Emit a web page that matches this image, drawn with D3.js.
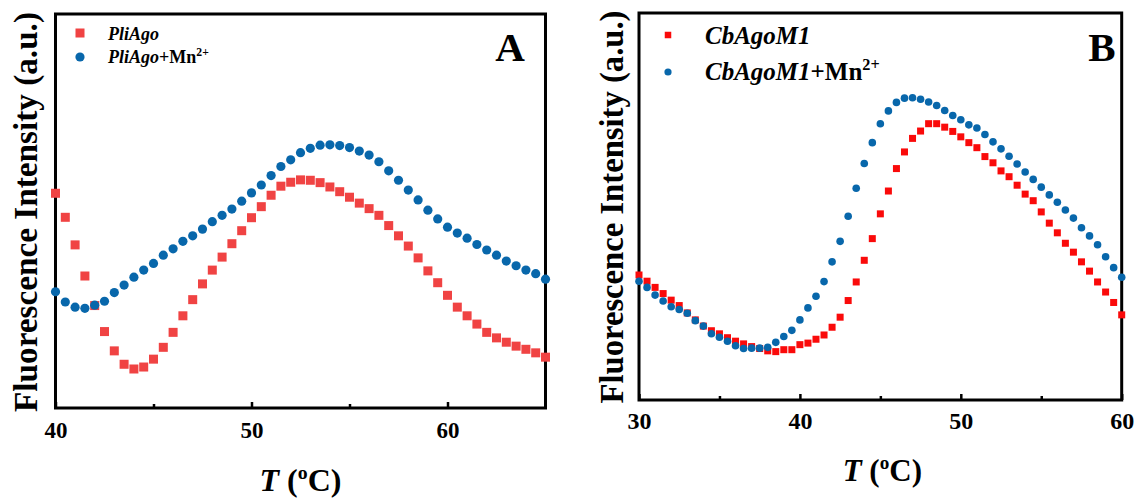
<!DOCTYPE html>
<html>
<head>
<meta charset="utf-8">
<script src="https://cdnjs.cloudflare.com/ajax/libs/d3/7.8.5/d3.min.js"></script>
<style>
    body { margin: 0; background: #fff; }
    svg { display: block; font-family: 'Liberation Serif', 'Times New Roman', serif; font-weight: bold; }
</style>
</head>
<body>
<div id="melting"></div>
<script>
'use strict';

// panel A - PliAgo, 40..65 C
var tempA = [40, 40.5, 41, 41.5, 42, 42.5, 43, 43.5, 44, 44.5, 45, 45.5, 46, 46.5, 47, 47.5, 48, 48.5, 49, 49.5,
    50, 50.5, 51, 51.5, 52, 52.5, 53, 53.5, 54, 54.5, 55, 55.5, 56, 56.5, 57, 57.5, 58, 58.5, 59, 59.5,
    60, 60.5, 61, 61.5, 62, 62.5, 63, 63.5, 64, 64.5, 65];
var pliAgo = [54.5, 48.4, 41.4, 33.5, 26.0, 19.4, 14.5, 11.1, 9.9, 10.4,
    12.4, 15.4, 19.2, 23.4, 27.5, 31.5, 35.0, 38.3, 41.7, 45.0,
    48.3, 51.1, 54.0, 56.3, 57.3, 57.9, 57.8, 57.2, 56.1, 54.9,
    53.5, 52.0, 50.6, 48.9, 46.3, 43.7, 41.1, 38.1, 34.8, 31.8,
    28.6, 25.6, 23.4, 21.3, 19.2, 17.8, 16.7, 15.7, 14.9, 14.0, 12.9];
var pliAgoMn = [29.5, 26.9, 25.6, 25.3, 26.1, 27.1, 29.3, 31.2, 33.2, 35.0,
    36.7, 38.8, 40.4, 42.3, 43.7, 45.4, 47.3, 48.9, 50.5, 52.5,
    54.6, 56.6, 59.0, 61.3, 63.0, 64.8, 65.9, 66.7, 66.8, 66.6,
    66.1, 65.2, 64.2, 62.5, 60.2, 57.8, 55.3, 52.8, 50.2, 48.0,
    45.9, 44.4, 43.1, 41.5, 40.1, 38.8, 37.3, 36.1, 35.0, 34.1, 32.7];
var ticksA = [40, 50, 60];
var minorA = [45, 55];

// panel B - CbAgoM1, 30..60 C
var tempB = [30, 30.5, 31, 31.5, 32, 32.5, 33, 33.5, 34, 34.5, 35, 35.5, 36, 36.5, 37, 37.5, 38, 38.5, 39, 39.5,
    40, 40.5, 41, 41.5, 42, 42.5, 43, 43.5, 44, 44.5, 45, 45.5, 46, 46.5, 47, 47.5, 48, 48.5, 49, 49.5,
    50, 50.5, 51, 51.5, 52, 52.5, 53, 53.5, 54, 54.5, 55, 55.5, 56, 56.5, 57, 57.5, 58, 58.5, 59, 59.5, 60];
var cbAgo = [32.3, 30.7, 29.1, 27.5, 25.8, 24.4, 22.5, 20.7, 19.1, 17.9,
    17.1, 16.1, 15.2, 14.5, 13.8, 13.3, 12.7, 12.5, 13.0, 13.0,
    14.3, 14.7, 15.7, 16.8, 18.8, 21.4, 25.7, 30.5, 36.1, 41.7,
    48.1, 54.0, 59.8, 64.1, 67.6, 69.5, 71.4, 71.4, 70.5, 69.4,
    68.0, 66.5, 65.2, 62.9, 61.3, 59.2, 57.7, 55.5, 53.2, 51.5,
    48.6, 45.7, 43.2, 40.5, 38.2, 35.7, 33.3, 30.5, 27.9, 25.2, 22.0];
var cbAgoMn = [30.7, 29.1, 27.1, 25.6, 24.1, 23.4, 22.4, 20.5, 19.1, 17.1,
    16.2, 15.2, 14.0, 13.3, 13.4, 13.4, 13.6, 14.9, 16.4, 18.0,
    20.7, 23.8, 26.8, 30.6, 35.7, 41.0, 47.5, 54.7, 61.1, 66.5,
    71.4, 74.7, 76.9, 78.0, 78.1, 77.7, 77.0, 76.1, 74.8, 73.5,
    72.4, 71.1, 70.3, 68.6, 66.7, 64.9, 63.0, 61.0, 58.9, 57.0,
    55.0, 53.0, 51.1, 49.1, 47.0, 44.5, 42.4, 40.1, 37.0, 34.2, 31.7];
var ticksB = [30, 40, 50, 60];
var minorB = [35, 45, 55];

var moduleMelting = (function() {

    var width = 1139,
        height = 502;

    var svg = d3.select('#melting').append('svg')
        .attr('width', width)
        .attr('height', height);

    svg.append('rect').attr('width', width).attr('height', height).attr('fill', '#fff');

    function drawPanel(p) {
        var x = d3.scaleLinear().domain(p.xDomain).range([p.left, p.right]);
        var y = d3.scaleLinear().domain([0, 100]).range([p.bottom, p.top]);
        var g = svg.append('g');

        // frame
        g.append('rect')
            .attr('x', p.left)
            .attr('y', p.top)
            .attr('width', p.right - p.left)
            .attr('height', p.bottom - p.top)
            .attr('fill', 'none')
            .attr('stroke', '#000')
            .attr('stroke-width', 3);

        // minor ticks, pointing in
        var minor = g.append('g')
            .attr('transform', 'translate(0,' + p.bottom + ')')
            .call(d3.axisBottom(x).tickValues(p.minor).tickSize(-4).tickFormat(''));
        minor.select('.domain').remove();
        minor.selectAll('line').attr('stroke-width', 2.5);

        // major ticks + labels
        var ax = g.append('g')
            .attr('transform', 'translate(0,' + p.bottom + ')')
            .call(d3.axisBottom(x).tickValues(p.ticks).tickSize(-6).tickPadding(p.labelPad));
        ax.select('.domain').remove();
        ax.attr('font-family', null).attr('font-size', p.tickFont);
        ax.selectAll('line').attr('stroke-width', 2.5);
        ax.selectAll('text').attr('fill', '#000');

        // markers: red squares under blue dots
        var pts1 = p.temps.map(function(t, i) { return {t: t, v: p.s1[i]}; });
        var pts2 = p.temps.map(function(t, i) { return {t: t, v: p.s2[i]}; });

        g.append('g').selectAll('rect')
            .data(pts1)
            .enter()
            .append('rect')
            .attr('x', function(d) { return x(d.t) - p.sq / 2; })
            .attr('y', function(d) { return y(d.v) - p.sq / 2; })
            .attr('width', p.sq)
            .attr('height', p.sq)
            .attr('fill', p.red);

        g.append('g').selectAll('circle')
            .data(pts2)
            .enter()
            .append('circle')
            .attr('cx', function(d) { return x(d.t); })
            .attr('cy', function(d) { return y(d.v); })
            .attr('r', p.r)
            .attr('fill', p.blue);

        // legend
        var lg = g.append('g').attr('font-size', p.legFont);
        lg.append('rect')
            .attr('x', p.legX - p.legSq / 2).attr('y', p.legY1 - p.legSq / 2)
            .attr('width', p.legSq).attr('height', p.legSq)
            .attr('fill', p.red);
        lg.append('circle')
            .attr('cx', p.legX).attr('cy', p.legY2).attr('r', p.legR)
            .attr('fill', p.blue);
        lg.append('text')
            .attr('x', p.legTx).attr('y', p.legB1)
            .attr('font-style', 'italic')
            .text(p.name);
        var t2 = lg.append('text').attr('x', p.legTx).attr('y', p.legB2);
        t2.append('tspan').attr('font-style', 'italic').text(p.name);
        t2.append('tspan').text('+Mn');
        t2.append('tspan').attr('dy', -p.legFont * 0.4).attr('font-size', p.legFont * 0.65).text('2+');

        // panel letter
        g.append('text')
            .attr('x', p.letterX).attr('y', p.letterY)
            .attr('text-anchor', 'middle')
            .attr('font-size', 41)
            .text(p.letter);

        // axis titles
        var xt = g.append('text')
            .attr('x', (p.left + p.right) / 2 + p.xtShift)
            .attr('y', p.xtY)
            .attr('text-anchor', 'middle')
            .attr('font-size', p.xtFont);
        xt.append('tspan').attr('font-style', 'italic').text('T');
        xt.append('tspan').text(' (');
        xt.append('tspan').attr('dy', -p.xtFont * 0.38).attr('font-size', p.xtFont * 0.62).text('o');
        xt.append('tspan').attr('dy', p.xtFont * 0.38).text('C)');

        g.append('text')
            .attr('transform', 'translate(' + p.ytX + ',' + p.ytMid + ') rotate(-90)')
            .attr('text-anchor', 'middle')
            .attr('font-size', 33)
            .attr('textLength', p.ytLen)
            .attr('lengthAdjust', 'spacingAndGlyphs')
            .text('Fluorescence Intensity (a.u.)');
    }

    var init = function() {
        drawPanel({
            temps: tempA, s1: pliAgo, s2: pliAgoMn,
            xDomain: [40, 65], ticks: ticksA, minor: minorA,
            left: 55.5, right: 545.5, top: 14, bottom: 408,
            red: '#f04343', blue: '#0867ab', sq: 9, r: 4.6,
            tickFont: 23, labelPad: 14,
            name: 'PliAgo', legFont: 18, legX: 80, legY1: 33, legY2: 57,
            legSq: 9, legR: 4.6, legTx: 108, legB1: 40, legB2: 63,
            letter: 'A', letterX: 510, letterY: 61,
            xtFont: 32, xtY: 491, xtShift: 0,
            ytX: 37, ytMid: 212, ytLen: 400
        });
        drawPanel({
            temps: tempB, s1: cbAgo, s2: cbAgoMn,
            xDomain: [30, 60], ticks: ticksB, minor: minorB,
            left: 639, right: 1121.7, top: 13, bottom: 400,
            red: '#fa0a0a', blue: '#0867ab', sq: 7, r: 3.8,
            tickFont: 24, labelPad: 12,
            name: 'CbAgoM1', legFont: 25, legX: 668, legY1: 35, legY2: 72,
            legSq: 6.5, legR: 3.6, legTx: 705, legB1: 44, legB2: 80,
            letter: 'B', letterX: 1102, letterY: 61,
            xtFont: 31, xtY: 481, xtShift: 2,
            ytX: 623, ytMid: 207, ytLen: 393
        });
    };

    return {
        init: init
    };
})();

moduleMelting.init();
</script>
</body>
</html>
